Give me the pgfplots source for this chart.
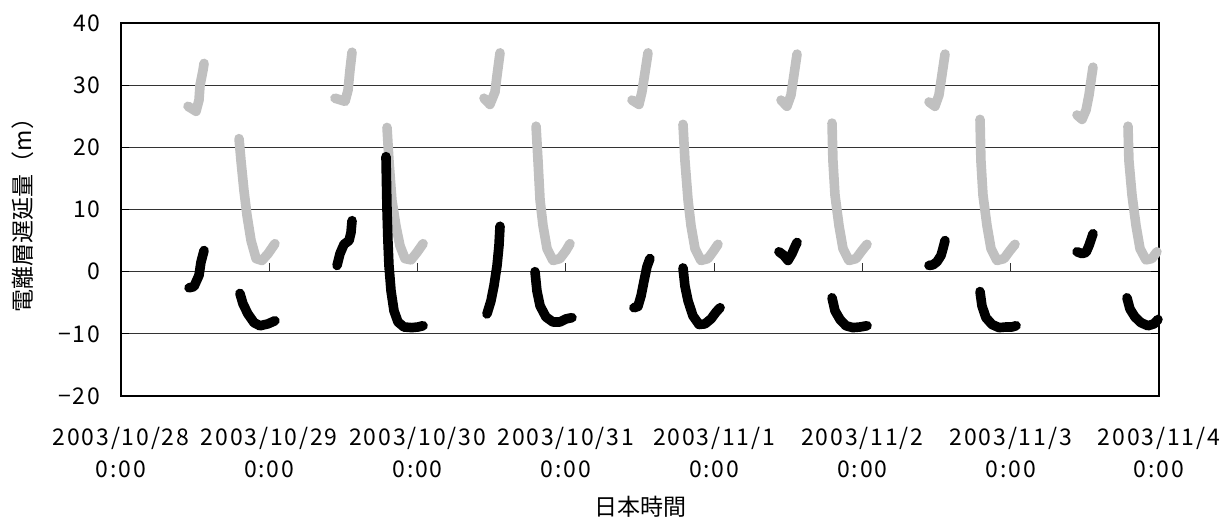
\documentclass[border=0pt]{standalone}
\usepackage{pgfplots}
\pgfplotsset{compat=1.18}
\usepackage{pgfplotstable}
\usepackage{fontspec}
\setmainfont{Noto Sans CJK JP}
\definecolor{lgray}{RGB}{192,192,192}

\pgfplotstableread{
x y
0.452 26.6
0.506 25.8
0.526 27.6
0.533 30.0
0.553 32.4
0.560 33.5
nan nan
0.796 21.4
0.809 17.9
0.829 13.1
0.850 9.0
0.877 5.0
0.911 2.1
0.951 1.8
0.992 2.9
1.038 4.5
nan nan
1.443 27.9
1.511 27.4
1.531 29.2
1.544 32.4
1.558 35.3
nan nan
1.794 23.2
1.807 17.9
1.827 11.5
1.854 7.4
1.881 4.2
1.915 2.1
1.956 1.9
1.996 3.1
2.037 4.5
nan nan
2.448 27.9
2.488 26.9
2.522 28.9
2.536 31.6
2.556 35.2
nan nan
2.799 23.4
2.812 17.9
2.826 11.5
2.846 7.4
2.873 3.7
2.913 1.8
2.960 2.1
3.001 3.4
3.028 4.5
nan nan
3.446 27.6
3.493 26.9
3.513 28.9
3.534 32.1
3.554 35.2
nan nan
3.790 23.7
3.803 17.9
3.824 11.5
3.844 7.4
3.871 3.7
3.911 1.8
3.958 2.1
3.992 3.2
4.026 4.4
nan nan
4.451 27.6
4.491 26.6
4.518 28.4
4.538 31.6
4.559 35.0
nan nan
4.795 23.9
4.801 17.9
4.815 12.3
4.842 7.4
4.869 3.7
4.909 1.8
4.957 2.1
4.997 3.4
5.031 4.4
nan nan
5.449 27.3
5.489 26.6
5.516 28.4
5.536 31.6
5.557 35.0
nan nan
5.793 24.5
5.799 17.9
5.813 12.3
5.840 7.4
5.867 3.7
5.907 1.8
5.955 2.1
5.995 3.4
6.029 4.4
nan nan
6.447 25.2
6.481 24.5
6.508 26.0
6.528 28.4
6.542 30.8
6.555 32.9
nan nan
6.791 23.4
6.797 17.9
6.818 12.3
6.845 7.4
6.872 3.7
6.912 1.9
6.952 2.1
6.986 3.2
}\graydata

\pgfplotstableread{
x y
0.459 -2.6
0.492 -2.4
0.526 -0.6
0.539 1.5
0.560 3.4
nan nan
0.802 -3.5
0.823 -5.2
0.856 -6.8
0.897 -8.2
0.937 -8.7
0.991 -8.4
1.038 -7.9
nan nan
1.457 1.0
1.477 2.9
1.504 4.4
1.538 5.0
1.551 6.3
1.558 8.2
nan nan
1.787 18.5
1.790 14.7
1.794 9.8
1.800 5.0
1.807 1.0
1.821 -3.1
1.841 -6.3
1.868 -8.1
1.908 -8.9
1.962 -9.0
2.003 -8.9
2.037 -8.7
nan nan
2.468 -6.8
2.495 -4.7
2.515 -2.3
2.536 1.0
2.549 4.2
2.556 7.3
nan nan
2.792 0.0
2.805 -3.1
2.826 -5.5
2.866 -7.3
2.913 -8.1
2.960 -8.1
3.001 -7.6
3.041 -7.4
nan nan
3.459 -5.8
3.486 -5.6
3.507 -3.9
3.527 -1.5
3.547 0.8
3.567 2.1
nan nan
3.790 0.6
3.803 -2.3
3.824 -4.7
3.857 -7.1
3.898 -8.5
3.938 -8.4
3.979 -7.6
4.013 -6.5
4.040 -5.8
nan nan
4.437 3.2
4.471 2.6
4.498 1.8
4.525 2.9
4.545 4.0
4.559 4.7
nan nan
4.795 -4.2
4.815 -6.3
4.849 -7.7
4.889 -8.7
4.936 -9.0
4.984 -8.9
5.031 -8.7
nan nan
5.449 1.0
5.476 1.1
5.503 1.6
5.530 2.6
5.543 3.7
5.557 5.0
nan nan
5.793 -3.2
5.806 -5.5
5.833 -7.4
5.874 -8.5
5.921 -9.0
5.968 -8.9
6.009 -8.9
6.036 -8.7
nan nan
6.447 3.2
6.481 2.9
6.508 3.1
6.528 4.2
6.548 5.6
6.555 6.1
nan nan
6.784 -4.2
6.804 -6.0
6.838 -7.3
6.878 -8.2
6.925 -8.7
6.966 -8.4
6.993 -7.7
}\blackdata

\begin{document}
\begin{tikzpicture}
\begin{axis}[
  scale only axis,
  width=519pt, height=186.5pt,
  xmin=0, xmax=7, ymin=-20, ymax=40,
  clip=false,
  unbounded coords=jump,
  font=\fontsize{11.5}{16}\selectfont,
  axis line style={black, line width=0.7pt},
  ytick={-20,-10,0,10,20,30,40},
  yticklabels={−20,−10,0,10,20,30,40},
  yticklabel style={xshift=-7pt, font=\fontsize{11.5}{16}\selectfont\addfontfeatures{LetterSpace=6}},
  ytick style={black, line width=0.6pt},
  major tick length=4pt,
  ymajorgrids,
  grid style={black!80, line width=0.5pt},
  xtick={0,1,2,3,4,5,6,7},
  xticklabels={{2003/10/28\\0:00},{2003/10/29\\0:00},{2003/10/30\\0:00},{2003/10/31\\0:00},{2003/11/1\\0:00},{2003/11/2\\0:00},{2003/11/3\\0:00},{2003/11/4\\0:00}},
  xticklabel style={align=center, yshift=-12pt, font=\fontsize{11.5}{16}\selectfont\addfontfeatures{LetterSpace=8}},
  x tick style={draw=none},
  xlabel={日本時間},
  xlabel style={at={(axis description cs:0.5,0)}, anchor=center, yshift=-55.5pt},
  ylabel={電離層遅延量（m）},
  ylabel style={at={(axis description cs:0,0.5)}, anchor=center, yshift=49pt},
]
\pgfplotsinvokeforeach{1,...,6}{\draw[black!80, line width=0.6pt] (axis cs:#1,0) -- ([yshift=4.5pt]axis cs:#1,0);}
\addplot[color=lgray, line width=4.8pt, line cap=round, line join=round] table[x=x,y=y] {\graydata};
\addplot[color=black, line width=4.8pt, line cap=round, line join=round] table[x=x,y=y] {\blackdata};
\coordinate (A) at (rel axis cs:0,0);
\coordinate (B) at (rel axis cs:1,1);
\end{axis}
\pgfresetboundingbox
\path ([shift={(-60.5pt,-63pt)}]A) rectangle ([shift={(33.5pt,11.5pt)}]B);
\end{tikzpicture}
\end{document}
